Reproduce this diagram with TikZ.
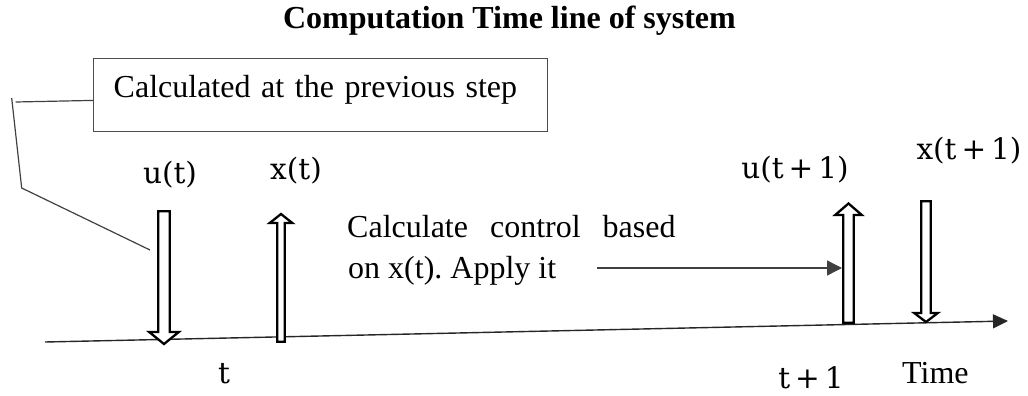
\documentclass[tikz,border=0pt]{standalone}
\usepackage{fontspec}
\setmainfont{Liberation Serif}
\newfontfamily\mathlike{DejaVu Serif}
\usetikzlibrary{arrows.meta,calc}
\frenchspacing

% hollow block arrow: centre x, flat end y, head base y, tip y, shaft half width, head half width
\newcommand\blockarrow[6]{%
  \draw[blockline] (#1-#5,#2) -- (#1+#5,#2) -- (#1+#5,#3) -- (#1+#6,#3)
    -- (#1,#4) -- (#1-#6,#3) -- (#1-#5,#3) -- cycle;}

\tikzset{
  txt/.style={inner sep=0pt, font=\fontsize{32pt}{38pt}\selectfont},
  ttl/.style={inner sep=0pt, font=\fontsize{32pt}{38pt}\selectfont\bfseries},
  lbl/.style={inner sep=0pt, font=\mathlike\fontsize{29.5pt}{34pt}\selectfont},
  blockline/.style={draw=black, line width=2.3pt, fill=white},
  leader/.style={draw=black!75, line width=1.2pt},
  axisline/.style={draw=black!85, line width=1.4pt, -{Triangle[length=15pt,width=14pt]}},
  pointer/.style={draw=black!75, line width=1.4pt, -{Triangle[length=15pt,width=15pt]}},
  notebox/.style={draw=black!70, line width=1.4pt, anchor=north west,
    inner xsep=20pt, inner ysep=0pt, text height=39pt, text depth=34pt,
    text width=414pt, align=left, font=\fontsize{32pt}{38pt}\selectfont},
}

\begin{document}
\begin{tikzpicture}[x=1pt, y=-1pt]
\useasboundingbox (0,0) rectangle (1028,396);

% title
\node[ttl, anchor=base] (title) at (509.5,29) {Computation Time line of system};

% note box and its leader lines
\node[notebox] (prevbox) at (93,58) {Calculated at the previous step};
\coordinate (kneeA) at (15.7,102);
\coordinate (leadTop) at (11.7,98);
\coordinate (leadKnee) at (21.7,188);
\coordinate (leadEnd) at (150,250);
\draw[leader] ($(prevbox.north west)!0.57!(prevbox.south west)$) -- (kneeA);
\draw[leader] (leadTop) -- (leadKnee) -- (leadEnd);

% time axis
\coordinate (axisStart) at (45,342);
\coordinate (axisEnd) at (1008,321);
\draw[axisline] (axisStart) -- (axisEnd);

% block arrows
\blockarrow{164}{211.2}{332}{344}{5.8}{14.8}
\blockarrow{281}{341.8}{223}{214}{3.8}{11.3}
\blockarrow{848.5}{322.8}{215}{203.5}{5.3}{13.3}
\blockarrow{926}{201.2}{313}{322}{4.8}{11.8}

% arrow labels
\node[lbl] (ut) at (170,175) {u(t)};
\node[lbl] (xt) at (296,171) {x(t)};
\node[lbl] (ut1) at (795,170) {u(t\hspace{5pt}+\hspace{5pt}1)};
\node[lbl] (xt1) at (969,151) {x(t\hspace{5pt}+\hspace{5pt}1)};

% description and pointer to the next control step
\node[txt, anchor=base west] (calcA) at (347,237) {Calculate\hspace{22pt}control\hspace{22pt}based};
\node[txt, anchor=base west] (calcB) at (348,278) {on x(t). Apply it};
\coordinate (ptrStart) at (597,268);
\coordinate (ptrEnd) at (842,268);
\draw[pointer] (ptrStart) -- (ptrEnd);

% axis tick labels
\node[lbl, anchor=base] (tk0) at (224,383) {t};
\node[lbl, anchor=base] (tk1) at (811,388) {t\hspace{5pt}+\hspace{5pt}1};
\node[txt, anchor=base west] (timeLbl) at (902,383) {Time};
\end{tikzpicture}
\end{document}
